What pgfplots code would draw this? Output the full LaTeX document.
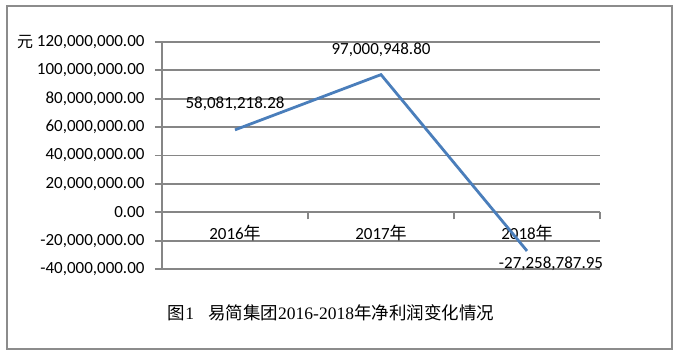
\documentclass[border=0pt]{standalone}
\usepackage{fontspec}
\setmainfont{Carlito}
\newfontfamily\cjk{Noto Sans CJK SC}
\newfontfamily\capserif{Liberation Serif}
\usepackage{pgfplots}
\usepackage{pgfplotstable}
\pgfplotsset{compat=1.18}
\definecolor{linec}{HTML}{4A7EBB}
\definecolor{gridc}{HTML}{868686}
\definecolor{framec}{HTML}{8C8C8C}
\pgfplotstableread{
x y label dx dy
0 58081218.28 58,081,218.28 0 26
1 97000948.80 97,000,948.80 0 25
2 -27258787.95 -27,258,787.95 24 -13
}\profit
\begin{document}
\begin{tikzpicture}
\path[use as bounding box] (0,0) rectangle (685bp,359bp);
\draw[framec, line width=1.8bp] (7bp,10bp) rectangle (672bp,353bp);
\begin{axis}[
  at={(162bp,90bp)}, anchor=south west,
  scale only axis, width=438bp, height=227bp,
  xmin=-0.5, xmax=2.5, ymin=-40000000, ymax=120000000,
  scaled y ticks=false,
  axis y line*=left, axis x line*=middle,
  axis line style={gridc, line width=1.8bp},
  ytick={-40000000,-20000000,0,20000000,40000000,60000000,80000000,100000000,120000000},
  yticklabels={{-40,000,000.00},{-20,000,000.00},{0.00},{20,000,000.00},{40,000,000.00},{60,000,000.00},{80,000,000.00},{100,000,000.00},{120,000,000.00}},
  ymajorgrids, grid style={gridc, line width=1.8bp},
  xtick={-0.5,0.5,1.5,2.5}, xticklabels={},
  extra x ticks={0,1,2},
  extra x tick labels={2016{\cjk 年},2017{\cjk 年},2018{\cjk 年}},
  extra x tick style={major tick length=0pt, grid=none, xticklabel style={yshift=-9bp}},
  tick style={gridc, line width=1.8bp},
  major tick length=7bp,
  tick align=outside,
  ticklabel style={font=\fontsize{17bp}{20bp}\selectfont, text=black},
  yticklabel style={xshift=-7bp},
  clip=false,
]
\addplot[linec, line width=2.8bp, mark=none,
  nodes near coords, point meta=explicit symbolic,
  visualization depends on={\thisrow{dx} \as \dx},
  visualization depends on={\thisrow{dy} \as \dy},
  every node near coord/.append style={anchor=center, xshift=\dx*1bp, yshift=\dy*1bp,
     font=\fontsize{17bp}{20bp}\selectfont, text=black}]
  table[x=x, y=y, meta=label] {\profit};
\end{axis}
\node at (25bp,317bp) {\fontsize{16bp}{19bp}\selectfont\cjk 元};
\node at (331bp,46bp) {\fontsize{17.5bp}{20bp}\selectfont {\cjk 图}{\capserif 1}\hspace{14bp}{\cjk 易简集团}{\capserif 2016-2018}{\cjk 年净利润变化情况}};
\end{tikzpicture}
\end{document}
